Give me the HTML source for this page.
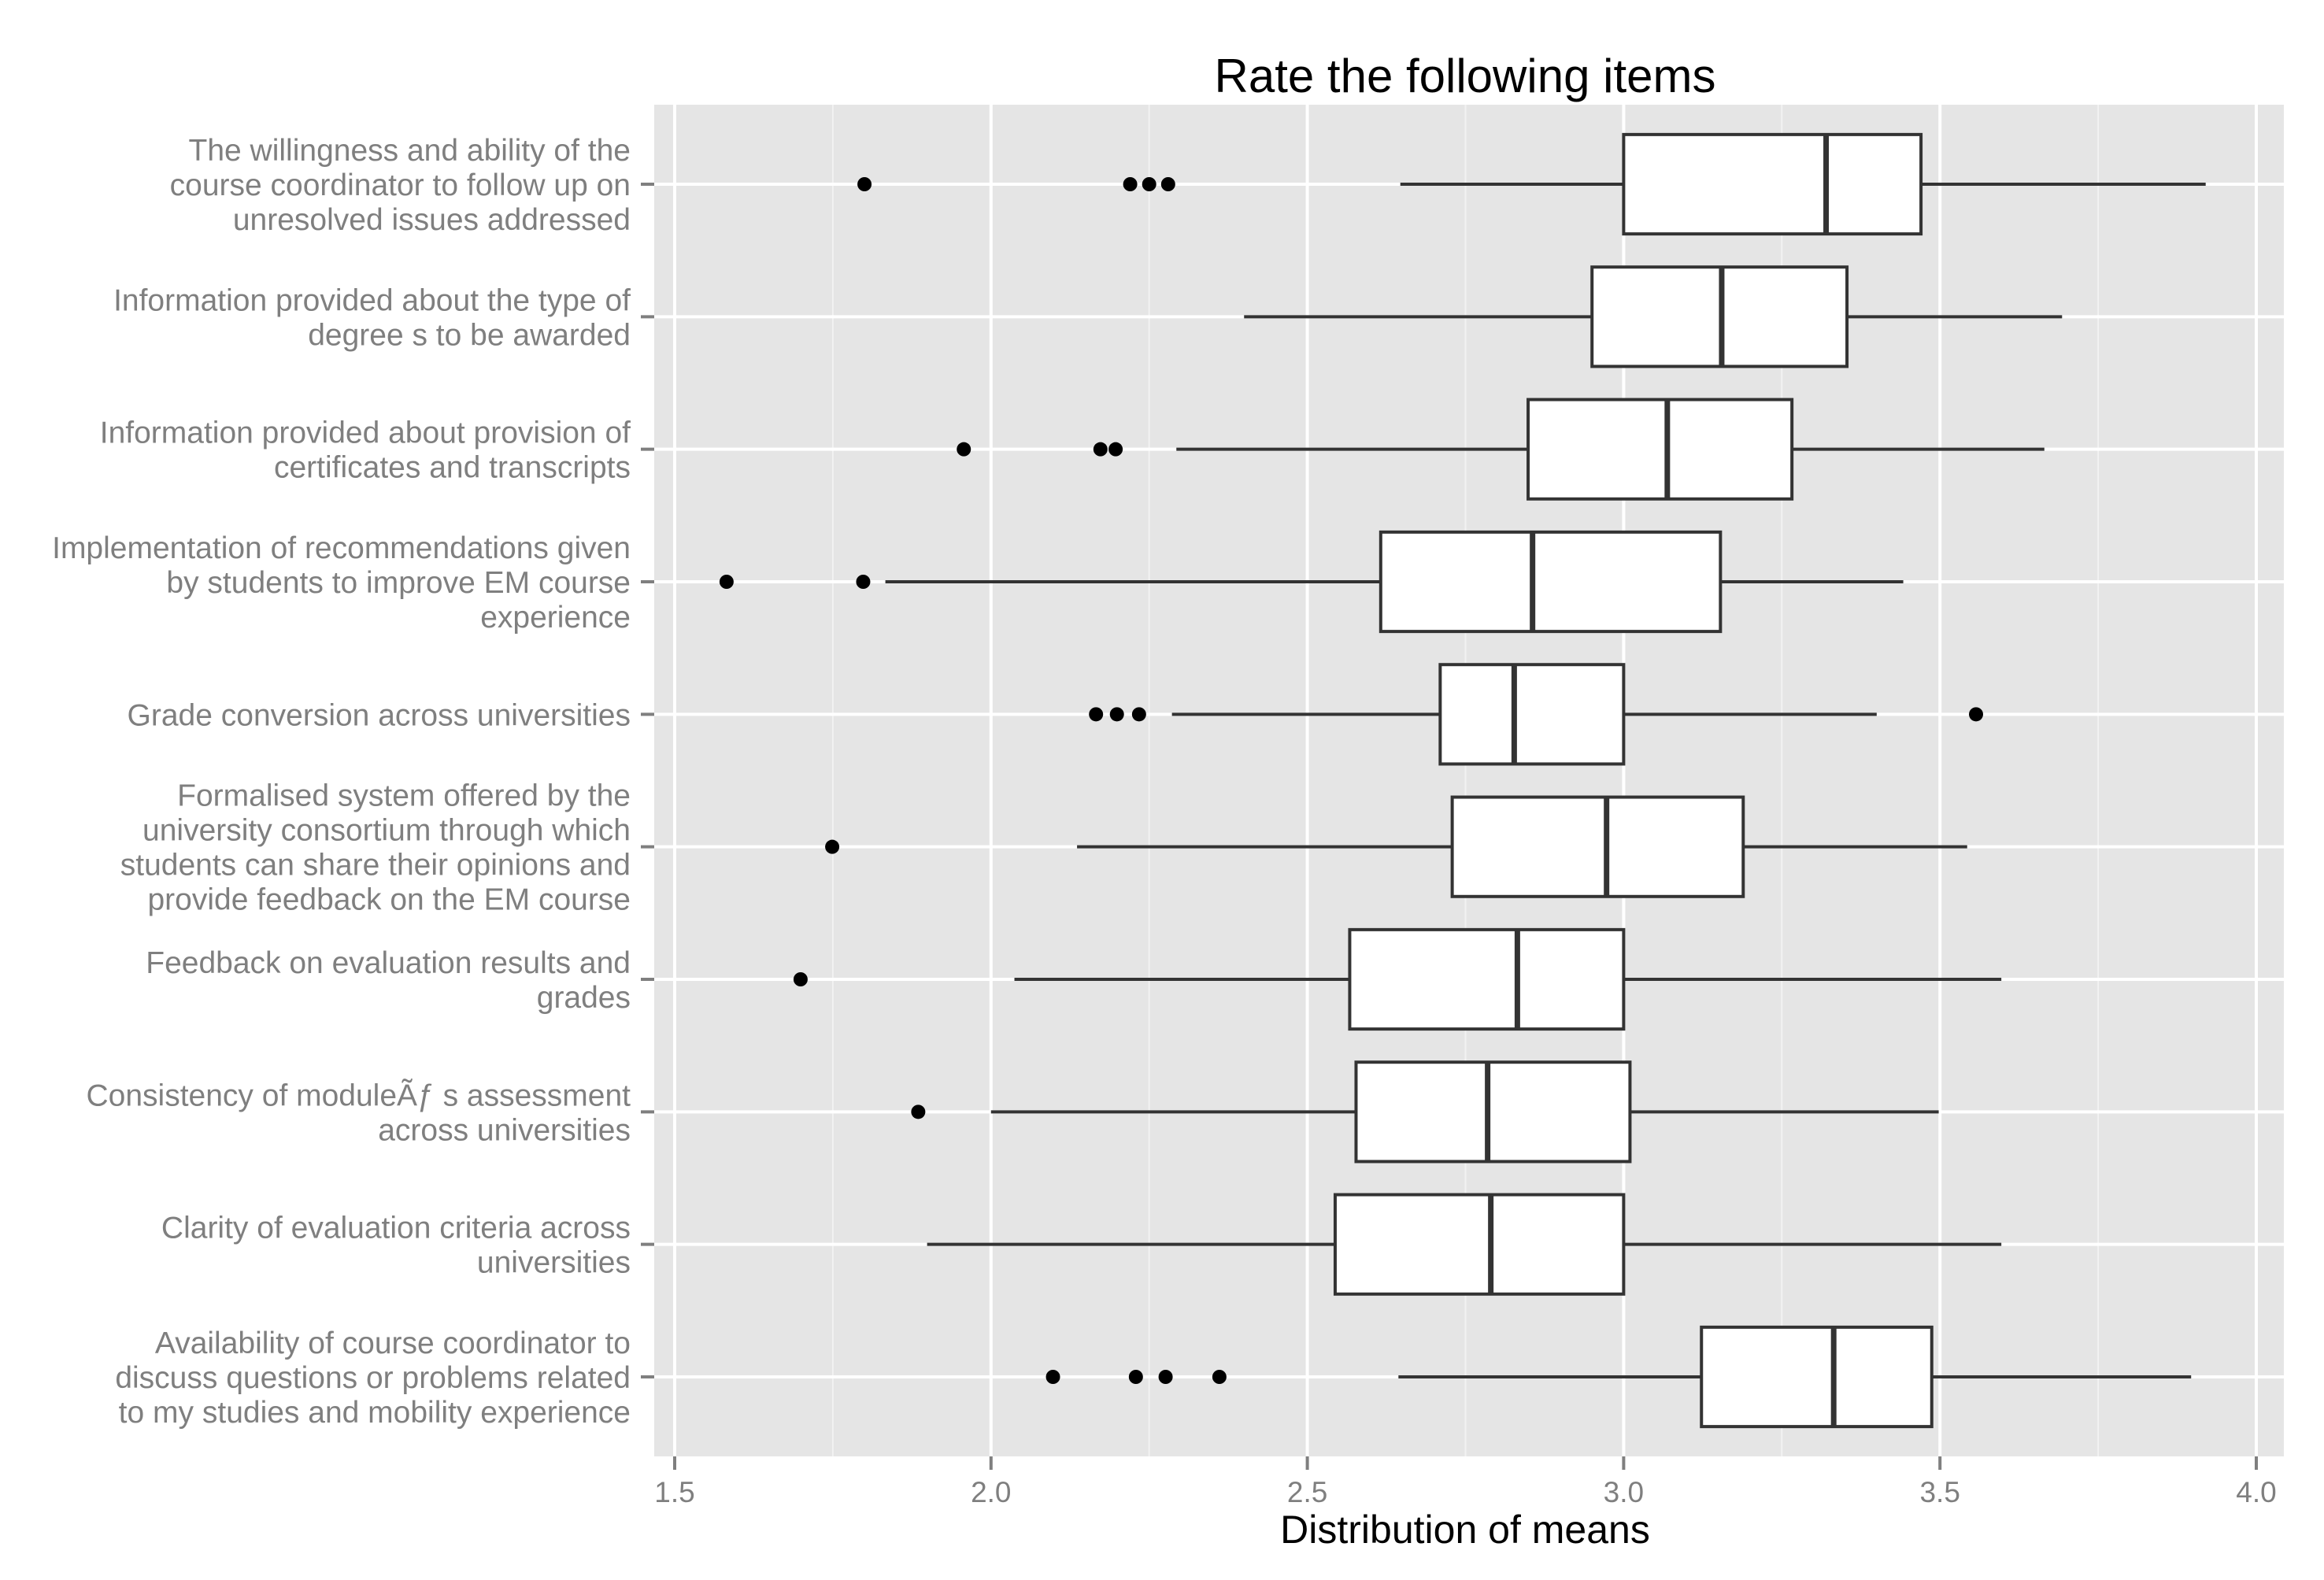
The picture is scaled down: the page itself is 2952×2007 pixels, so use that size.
<!DOCTYPE html>
<html><head><meta charset="utf-8"><style>
html,body{margin:0;padding:0;background:#fff;}
svg{display:block;font-family:"Liberation Sans",Arial,sans-serif;}
</style></head><body>
<svg id="chart" width="2952" height="2007" viewBox="0 0 2952 2007" xmlns="http://www.w3.org/2000/svg">
<rect x="0" y="0" width="2952" height="2007" fill="#fff"/>
<text x="1861" y="117" font-size="60" text-anchor="middle" fill="#000">Rate the following items</text>
<text x="1861" y="1960" font-size="50" text-anchor="middle" fill="#000">Distribution of means</text>
<g id="plot"></g>
</svg>
<script>
const categories = [
 ["The willingness and ability of the","course coordinator to follow up on","unresolved issues addressed"],
 ["Information provided about the type of","degree s to be awarded"],
 ["Information provided about provision of","certificates and transcripts"],
 ["Implementation of recommendations given","by students to improve EM course","experience"],
 ["Grade conversion across universities"],
 ["Formalised system offered by the","university consortium through which","students can share their opinions and","provide feedback on the EM course"],
 ["Feedback on evaluation results and","grades"],
 ["Consistency of moduleÃƒ s assessment","across universities"],
 ["Clarity of evaluation criteria across","universities"],
 ["Availability of course coordinator to","discuss questions or problems related","to my studies and mobility experience"]
];
const whiskerLow = [2.647,2.40,2.293,1.833,2.286,2.136,2.037,2.0,1.899,2.644];
const q1 =         [3.0,2.95,2.849,2.616,2.71,2.729,2.567,2.577,2.544,3.123];
const median =     [3.32,3.155,3.069,2.856,2.827,2.973,2.832,2.785,2.79,3.332];
const q3 =         [3.47,3.353,3.266,3.153,3.0,3.189,3.0,3.01,3.0,3.487];
const whiskerHigh =[3.92,3.693,3.665,3.442,3.40,3.543,3.597,3.498,3.597,3.897];
const outliers = [[1.80,2.22,2.25,2.28],[],[1.957,2.173,2.197],[1.582,1.798],[2.166,2.199,2.234,3.557],[1.749],[1.699],[1.885],[],[2.098,2.229,2.276,2.361]];
const xTicks = [1.5,2.0,2.5,3.0,3.5,4.0];
const xTickLabels = ["1.5","2.0","2.5","3.0","3.5","4.0"];
const xMinor = [1.75,2.25,2.75,3.25,3.75];

const PL=831, PR=2901, PT=133, PB=1850;
function xs(v){ return 857 + (v-1.5)*803.6; }
const n = categories.length;
const unit = (PB-PT)/(n-1+1.2);
function ys(i){ return PT + (i+0.6)*unit; }
const NS="http://www.w3.org/2000/svg";
const g=document.getElementById('plot');
function mk(tag,attrs,parent){const e=document.createElementNS(NS,tag);for(const k in attrs)e.setAttribute(k,attrs[k]);(parent||g).appendChild(e);return e;}

const panel=mk('rect',{x:PL,y:PT,width:PR-PL,height:PB-PT,fill:'#e5e5e5'});


xMinor.forEach(v=>{
 const l=mk('line',{x1:xs(v),x2:xs(v),y1:PT,y2:PB,stroke:'#f2f2f2','stroke-width':2});
 
 
});
xTicks.forEach((v,i)=>{
 const l=mk('line',{x1:xs(v),x2:xs(v),y1:PT,y2:PB,stroke:'#fff','stroke-width':4});
 
 
 const t=mk('line',{x1:xs(v),x2:xs(v),y1:PB,y2:PB+17,stroke:'#7f7f7f','stroke-width':4});
 
 
 const tx=mk('text',{x:xs(v),y:PB+58,'font-size':37,'text-anchor':'middle',fill:'#7f7f7f'});
 tx.textContent=xTickLabels[i];
 
 
});
categories.forEach((lines,i)=>{
 const y=ys(i);
 const hl=mk('line',{x1:PL,x2:PR,y1:y,y2:y,stroke:'#fff','stroke-width':4});
 
 
 const tk=mk('line',{x1:PL-17,x2:PL,y1:y,y2:y,stroke:'#7f7f7f','stroke-width':4});
 
 
 const lh=44, start=y-(lines.length-1)*lh/2+14;
 const t=mk('text',{x:801,'font-size':39,'text-anchor':'end',fill:'#7f7f7f'});
 
 
 lines.forEach((s,k)=>{const sp=mk('tspan',{x:801,y:start+k*lh},t);sp.textContent=s;});
 const hw=0.375*unit;
 const w1=mk('line',{x1:xs(whiskerLow[i]),x2:xs(q1[i]),y1:y,y2:y,stroke:'#333','stroke-width':4});
 
 
 const w2=mk('line',{x1:xs(q3[i]),x2:xs(whiskerHigh[i]),y1:y,y2:y,stroke:'#333','stroke-width':4});
 
 
 const b=mk('rect',{x:xs(q1[i]),y:y-hw,width:xs(q3[i])-xs(q1[i]),height:2*hw,fill:'#fff',stroke:'#333','stroke-width':4});
 
 
 const m=mk('line',{x1:xs(median[i]),x2:xs(median[i]),y1:y-hw,y2:y+hw,stroke:'#333','stroke-width':7});
 
 
 outliers[i].forEach(v=>{
  const c=mk('circle',{cx:xs(v),cy:y,r:9,fill:'#000'});
  
  
 });
});
</script>
</body></html>
